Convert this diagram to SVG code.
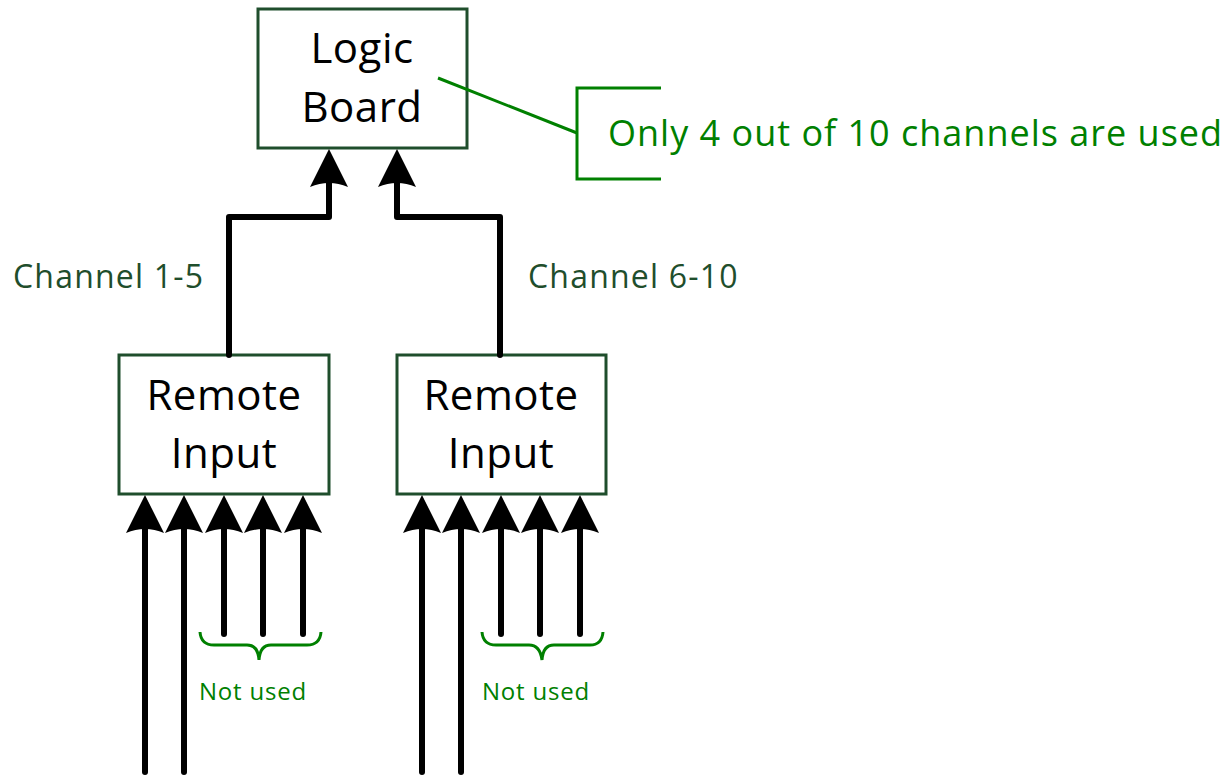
<svg xmlns="http://www.w3.org/2000/svg" width="1231" height="775" viewBox="0 0 1231 775">
  <style>
    .box { fill: #ffffff; stroke: #1f4e2c; stroke-width: 3; }
    .label { font-family: "Open Sans", "Liberation Sans", sans-serif; fill: #000000; font-size: 42px; text-anchor: middle; letter-spacing: 0.5px; }
    .chan { font-family: "Open Sans", "Liberation Sans", sans-serif; fill: #1f4e2c; font-size: 32px; letter-spacing: 1.2px; }
    .note { font-family: "Open Sans", "Liberation Sans", sans-serif; fill: #008000; }
    .wire { fill: none; stroke: #000000; stroke-width: 6; stroke-linecap: round; stroke-linejoin: round; }
    .callout { fill: none; stroke: #008000; stroke-width: 3; }
  </style>
  <defs>
    <!-- notched arrowhead, tip at origin pointing up -->
    <path id="head" d="M0,0 L19,38 Q0,30 -19,38 Z" fill="#000000"/>
  </defs>

  <g id="logic-board">
    <rect class="box" x="258" y="9" width="209" height="139"/>
    <text class="label" x="362" y="63">Logic</text>
    <text class="label" x="362" y="122">Board</text>
  </g>

  <g id="remote-input-1">
    <rect class="box" x="119" y="355" width="210" height="139"/>
    <text class="label" x="224" y="410">Remote</text>
    <text class="label" x="224" y="468">Input</text>
  </g>

  <g id="remote-input-2">
    <rect class="box" x="397" y="355" width="209" height="139"/>
    <text class="label" x="501" y="410">Remote</text>
    <text class="label" x="501" y="468">Input</text>
  </g>

  <g id="connectors">
    <!-- channel buses to the logic board -->
    <path class="wire" d="M229,355 V217 H329 V180"/>
    <path class="wire" d="M500,355 V217 H397 V180"/>
    <use href="#head" x="329" y="149"/>
    <use href="#head" x="397" y="149"/>

    <!-- inputs to remote input 1 -->
    <path class="wire" d="M145,772 V525"/>
    <path class="wire" d="M184,772 V525"/>
    <path class="wire" d="M224,634 V525"/>
    <path class="wire" d="M263,634 V525"/>
    <path class="wire" d="M303,634 V525"/>
    <use href="#head" x="145" y="495"/>
    <use href="#head" x="184" y="495"/>
    <use href="#head" x="224" y="495"/>
    <use href="#head" x="263" y="495"/>
    <use href="#head" x="303" y="495"/>

    <!-- inputs to remote input 2 -->
    <path class="wire" d="M422,772 V525"/>
    <path class="wire" d="M461,772 V525"/>
    <path class="wire" d="M501,634 V525"/>
    <path class="wire" d="M540,634 V525"/>
    <path class="wire" d="M580,634 V525"/>
    <use href="#head" x="422" y="495"/>
    <use href="#head" x="461" y="495"/>
    <use href="#head" x="501" y="495"/>
    <use href="#head" x="540" y="495"/>
    <use href="#head" x="580" y="495"/>
  </g>

  <g id="channel-labels">
    <text class="chan" x="13" y="288">Channel 1-5</text>
    <text class="chan" x="528" y="288">Channel 6-10</text>
  </g>

  <g id="unused-1">
    <path class="callout" d="M200,632 Q201,645 214,645 H247 Q258,645 259,660 Q260,645 271,645 H307 Q320,645 321,632"/>
    <text class="note" x="253" y="700" font-size="24" letter-spacing="0.8" text-anchor="middle">Not used</text>
  </g>

  <g id="unused-2">
    <path class="callout" d="M482,632 Q483,645 496,645 H529 Q540,645 542,660 Q543,645 554,645 H590 Q602,645 603,632"/>
    <text class="note" x="536" y="700" font-size="24" letter-spacing="0.8" text-anchor="middle">Not used</text>
  </g>

  <g id="channel-note">
    <path class="callout" d="M438,78 L577,133"/>
    <path class="callout" d="M661,88 H577 V179 H661"/>
    <text class="note" x="608" y="146" font-size="36" letter-spacing="1">Only 4 out of 10 channels are used</text>
  </g>
</svg>
